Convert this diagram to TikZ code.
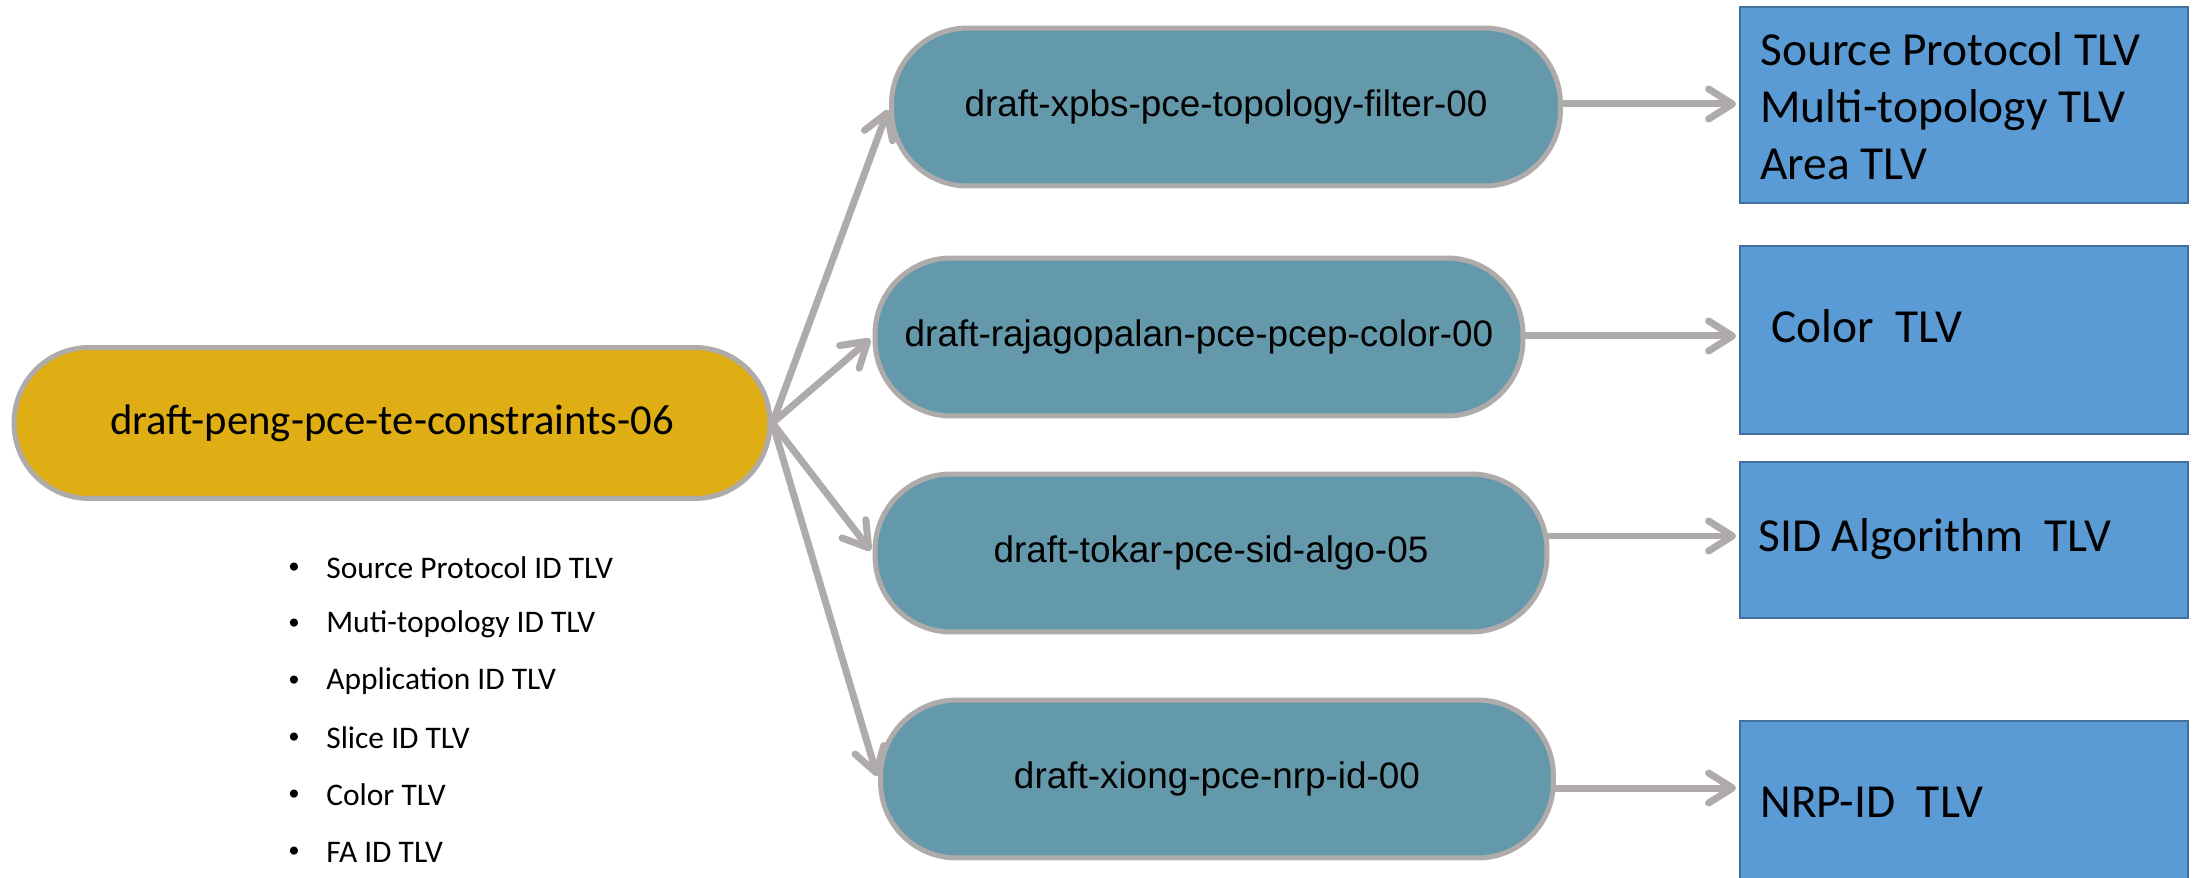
\documentclass[tikz,border=0pt]{standalone}
\usepackage{fontspec}
\setmainfont{Carlito}
\newfontfamily\arialf{Liberation Sans}
\usetikzlibrary{arrows.meta}
\definecolor{edgegray}{HTML}{AFABAB}
\definecolor{goldfill}{HTML}{DFAD14}
\definecolor{tealfill}{HTML}{6399AA}
\definecolor{bluefill}{HTML}{5B9BD5}
\definecolor{blueedge}{HTML}{41719C}
\tikzset{
  mainnode/.style={draw=edgegray, line width=0.1cm, fill=goldfill, rounded corners=1.5cm,
    minimum width=15.12cm, minimum height=3.02cm, inner sep=0pt,
    font=\fontsize{24.3}{28}\selectfont},
  draftnode/.style={draw=edgegray, line width=0.1cm, fill=tealfill, rounded corners=1.52cm,
    minimum height=3.16cm, inner sep=0pt, font=\arialf\fontsize{21}{25}\selectfont},
  tlvbox/.style={draw=blueedge, line width=0.04cm, fill=bluefill, minimum width=8.96cm, inner sep=0pt},
  tlvtext/.style={anchor=west, align=left, inner sep=0pt, font=\fontsize{27}{32.4}\selectfont},
  bullettext/.style={anchor=west, inner sep=0pt, font=\fontsize{17.9}{21}\selectfont},
  arr/.style={draw=edgegray, line width=0.14cm, line cap=round,
    -{Straight Barb[round, length=0.48cm, width=0.6cm]}, shorten >=0.06cm},
}
\begin{document}
\begin{tikzpicture}[x=0.02cm, y=-0.02cm]
\useasboundingbox (0,0) rectangle (2195,878);
% main node
\node[mainnode] (main) at (392,423) {draft-peng-pce-te-constraints-06};
% draft nodes
\node[draftnode, minimum width=13.38cm] (t1) at (1226,107) {draft-xpbs-pce-topology-filter-00};
\node[draftnode, minimum width=12.96cm] (t2) at (1199,337) {draft-rajagopalan-pce-pcep-color-00};
\node[draftnode, minimum width=13.44cm] (t3) at (1211,553) {draft-tokar-pce-sid-algo-05};
\node[draftnode, minimum width=13.46cm] (t4) at (1217,779) {draft-xiong-pce-nrp-id-00};
% TLV boxes
\node[tlvbox, minimum height=3.92cm] (r1) at (1964,105) {};
\node[tlvbox, minimum height=3.76cm] (r2) at (1964,340) {};
\node[tlvbox, minimum height=3.14cm] (r3) at (1964,540) {};
\node[tlvbox, minimum height=3.6cm] (r4) at (1964,811) {};
% TLV texts
\node[tlvtext] (l1) at (1760,106) {Source Protocol TLV\\Multi-topology TLV\\Area TLV};
\node[tlvtext] (l2) at (1771,326) {Color\ \ TLV};
\node[tlvtext] (l3) at (1758,539) {SID Algorithm\ \ TLV};
\node[tlvtext] (l4) at (1760,802) {NRP-ID\ \ TLV};
% connectors
\draw[arr] (main.east) -- (t1.west);
\draw[arr] (main.east) -- (t2.west);
\draw[arr] (main.east) -- (t3.west);
\draw[arr] (main.east) -- (t4.west);
\draw[arr] (t1.east |- 0,104) -- (r1.west |- 0,104);
\draw[arr] (t2.east |- 0,336) -- (r2.west |- 0,336);
\draw[arr] (t3.east |- 0,536) -- (r3.west |- 0,536);
\draw[arr] (t4.east |- 0,788) -- (r4.west |- 0,788);
% bullet list
\foreach \i/\y/\txt in {1/568/Source Protocol ID TLV, 2/624/Muti-topology ID TLV, 3/681/Application ID TLV, 4/738/Slice ID TLV, 5/795/Color TLV, 6/852/FA ID TLV}{
  \node[bullettext] (b\i) at (326,\y) {\txt};
  \node[inner sep=0pt, font=\fontsize{13}{15}\selectfont] (d\i) at (294,\y) {\textbullet};
}
\end{tikzpicture}
\end{document}
